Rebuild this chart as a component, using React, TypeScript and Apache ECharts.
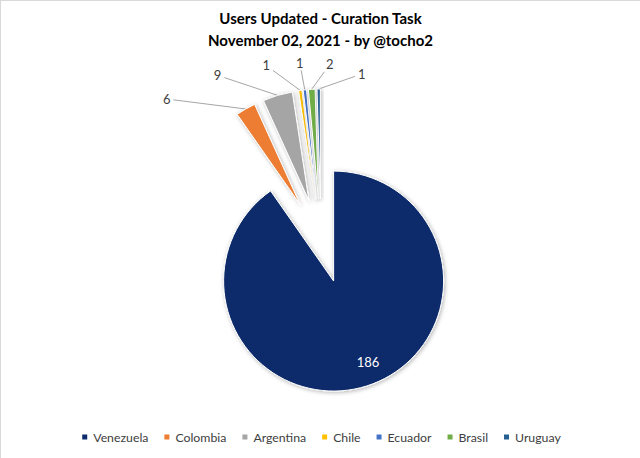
import React, { useEffect, useRef } from "react";
import * as echarts from "echarts";

const categories = ["Venezuela", "Colombia", "Argentina", "Chile", "Ecuador", "Brasil", "Uruguay"];
const values = [186, 6, 9, 1, 1, 2, 1];
const colors = ["#0d2b6b", "#ed7d31", "#a5a5a5", "#ffc000", "#4472c4", "#70ad47", "#255e91"];
const titleLines = ["Users Updated - Curation Task", "November 02, 2021 - by @tocho2"];

// layout (not data): pie geometry and label offsets relative to each exploded slice's anchor
const CENTER = [320, 240];
const RADIUS = 110;
const EXPLODE = 42;
const labelOffsets = [
  [17, 26],
  [-79, -10],
  [-60, -20],
  [-34, -25],
  [-5, -27],
  [18, -25],
  [43, -15],
];

const FONT = "Lato, 'Open Sans', sans-serif";

export default function App() {
  const ref = useRef<HTMLDivElement>(null);
  useEffect(() => {
    document.body.style.margin = "0";
    const chart = echarts.init(ref.current!, null, { renderer: "svg" });
    const explodeShift = (pt: number[]) => {
      const vx = pt[0] - CENTER[0];
      const vy = pt[1] - CENTER[1];
      const len = Math.hypot(vx, vy) || 1;
      return [(vx / len) * EXPLODE, (vy / len) * EXPLODE];
    };
    chart.setOption({
      animation: false,
      title: {
        text: titleLines.join("\n"),
        left: "center",
        top: 1,
        textStyle: { fontFamily: FONT, fontSize: 15, fontWeight: "bold", color: "#000", lineHeight: 22 },
      },
      legend: {
        bottom: 10,
        icon: "rect",
        itemWidth: 7,
        itemHeight: 7,
        itemGap: 14,
        textStyle: { fontFamily: FONT, fontSize: 12.3, color: "#404040" },
        data: categories,
      },
      series: [
        {
          type: "pie",
          center: CENTER,
          radius: RADIUS,
          startAngle: 90,
          clockwise: true,
          selectedMode: "multiple",
          selectedOffset: EXPLODE,
          emphasis: { disabled: true },
          itemStyle: {
            borderColor: "#fff",
            borderWidth: 1,
            shadowBlur: 4,
            shadowOffsetX: 1,
            shadowOffsetY: 1,
            shadowColor: "rgba(0,0,0,0.3)",
          },
          label: { show: false },
          labelLine: { show: false },
          data: categories.map((name, i) => ({
            name,
            value: values[i],
            selected: true,
            itemStyle: { color: colors[i] },
          })),
        },
        {
          type: "pie",
          center: CENTER,
          radius: RADIUS,
          startAngle: 90,
          clockwise: true,
          silent: true,
          emphasis: { disabled: true },
          itemStyle: { color: "transparent", borderWidth: 0 },
          label: { position: "outside", formatter: "{c}", color: "#404040", fontFamily: FONT, fontSize: 13 },
          labelLine: { length: 20, length2: 20, lineStyle: { color: "#a6a6a6", width: 1 } },
          labelLayout: (p: any) => {
            const i = p.dataIndex;
            const [ox, oy] = labelOffsets[i];
            const lr = p.labelRect;
            if (i === 0) {
              const base = [lr.x + lr.width / 2, lr.y + lr.height / 2];
              const s = explodeShift(base);
              return {
                x: base[0] + s[0] + ox,
                y: base[1] + s[1] + oy,
                align: "center",
                verticalAlign: "middle",
              };
            }
            const raw = p.labelLinePoints[0];
            const s = explodeShift(raw);
            const p0 = [raw[0] + s[0], raw[1] + s[1]];
            const cx = p0[0] + ox;
            const cy = p0[1] + oy;
            const hw = lr.width / 2 + 3;
            const hh = lr.height / 2 + 1;
            const vx = p0[0] - cx;
            const vy = p0[1] - cy;
            const t = Math.min(hw / Math.max(Math.abs(vx), 1e-6), hh / Math.max(Math.abs(vy), 1e-6));
            const a = [cx + vx * t, cy + vy * t];
            return {
              x: cx,
              y: cy,
              align: "center",
              verticalAlign: "middle",
              labelLinePoints: [p0, a, a],
            };
          },
          data: categories.map((name, i) => ({
            name,
            value: values[i],
            label: i === 0 ? { position: "inside", color: "#fff" } : undefined,
          })),
        },
      ],
    });
    return () => chart.dispose();
  }, []);
  return <div ref={ref} style={{ width: 639, height: 457, border: "1px solid #d9d9d9" }} />;
}
